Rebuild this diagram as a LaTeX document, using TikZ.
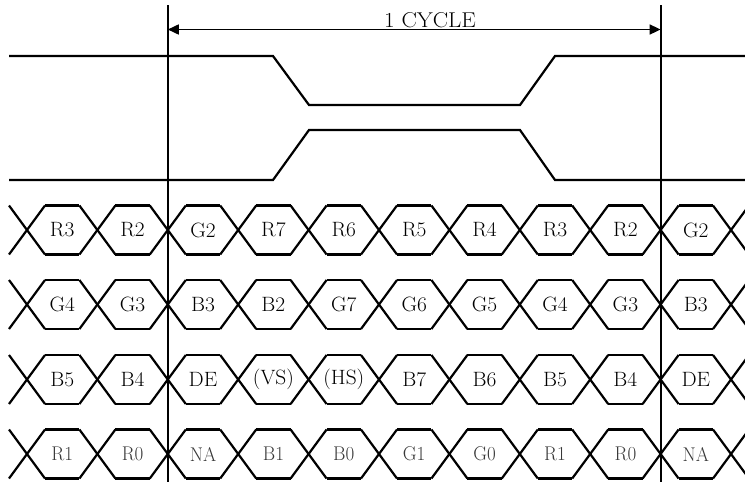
\documentclass[tikz,border=0pt]{standalone}
\usetikzlibrary{arrows.meta}
\newcommand{\bigtxt}[3]{\scalebox{#1}[#2]{\fontsize{17.28}{20}\selectfont #3}}
\begin{document}
\begin{tikzpicture}[x=1pt,y=-1pt,
  sig/.style={line width=2.2pt,line join=miter},
  lbl/.style={inner sep=0pt},
  lblgray/.style={text=black!78,inner sep=0pt},
  cyc/.style={line width=1.7pt,{Triangle[length=11pt,width=10pt]}-{Triangle[length=11pt,width=10pt]}}]
\useasboundingbox (0,0) rectangle (745,482);
\clip (0,0) rectangle (745,482);
% cycle boundaries
\coordinate (va) at (167.8,5);
\coordinate (vb) at (660.6,5);
\coordinate (va2) at (167.8,482);
\coordinate (vb2) at (660.6,482);
\draw[line width=2pt] (va) -- (va2);
\draw[line width=2pt] (vb) -- (vb2);
\coordinate (aa) at (167.8,29.5);
\coordinate (ab) at (660.6,29.5);
\draw[cyc] (aa) -- (ab);
\node[anchor=base,inner sep=0pt] (cycle) at (430,27) {\bigtxt{1.33}{1.24}{1 CYCLE}};
% control signals
\draw[sig] (9,56) -- (273,56) -- (309,105) -- (520,105) -- (555,56) -- (745,56);
\draw[sig] (9,180) -- (273,180) -- (309,130) -- (520,130) -- (555,180) -- (745,180);
% bus rows
\def\hw{18}
\foreach \r/\mid in {1/230,2/304.5,3/379.5,4/454}{
  \pgfmathsetmacro{\top}{\mid-24.5}
  \pgfmathsetmacro{\bot}{\mid+24.5}
  \foreach \k in {0,...,10}{
    \pgfmathsetmacro{\c}{27+70.4*\k}
    \draw[sig] (\c-\hw,\top) -- (\c+\hw,\bot);
    \draw[sig] (\c-\hw,\bot) -- (\c+\hw,\top);
  }
  \foreach \k in {0,...,9}{
    \pgfmathsetmacro{\a}{27+70.4*\k+\hw}
    \pgfmathsetmacro{\b}{27+70.4*(\k+1)-\hw}
    \draw[sig] (\a,\top) -- (\b,\top);
    \draw[sig] (\a,\bot) -- (\b,\bot);
  }
}
\foreach \t [count=\i from 0] in {R3,R2,G2,R7,R6,R5,R4,R3,R2,G2}
  \node[lbl] (r1-\i) at ({27+70.4*(\i+0.5)},230) {\bigtxt{1.24}{1.2}{\t}};
\foreach \t [count=\i from 0] in {G4,G3,B3,B2,G7,G6,G5,G4,G3,B3}
  \node[lbl] (r2-\i) at ({27+70.4*(\i+0.5)},304.5) {\bigtxt{1.24}{1.2}{\t}};
\foreach \t [count=\i from 0] in {B5,B4,DE,(VS),(HS),B7,B6,B5,B4,DE}
  \node[lbl] (r3-\i) at ({27+70.4*(\i+0.5)},379.5) {\bigtxt{1.24}{1.2}{\t}};
\foreach \t [count=\i from 0] in {R1,R0,NA,B1,B0,G1,G0,R1,R0,NA}
  \node[lblgray] (r4-\i) at ({27+70.4*(\i+0.5)},454) {\bigtxt{1.1}{1.15}{\t}};
\end{tikzpicture}
\end{document}
